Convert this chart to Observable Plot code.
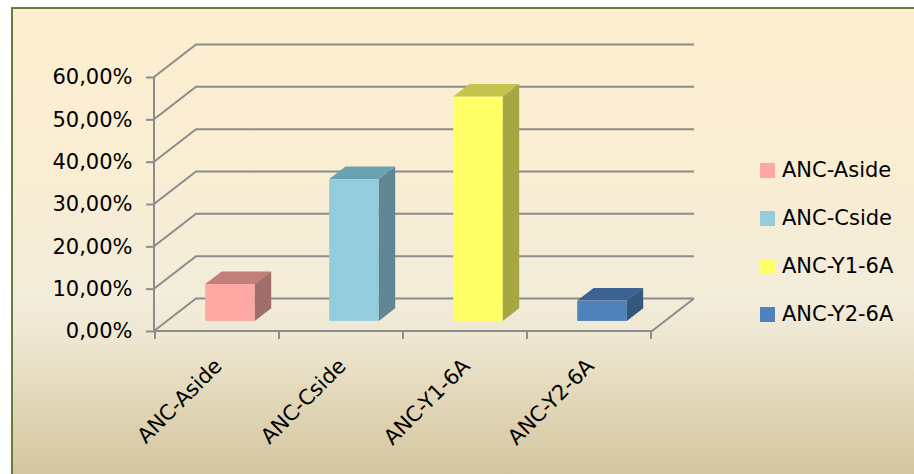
<!DOCTYPE html>
<html><head><meta charset="utf-8">
<script src="https://cdn.jsdelivr.net/npm/d3@7"></script>
<script src="https://cdn.jsdelivr.net/npm/@observablehq/plot@0.6"></script>
<style>
body{margin:0;background:#fff;}
#wrap{position:relative;width:914px;height:474px;overflow:hidden;font-family:"DejaVu Sans",sans-serif;}
#bg{position:absolute;left:11px;top:7px;width:920px;height:480px;border-top:2px solid #6b7b3b;border-left:2px solid #6b7b3b;
background:linear-gradient(to bottom,#fdeecf 0%,#f9edd3 35%,#f2ecda 60%,#eee7d2 68%,#e3d8ba 80%,#d1c39c 100%);}
#chart{position:absolute;left:0;top:0;}
#legend{position:absolute;left:760px;top:146px;font-size:21px;color:#000;}
.row{display:flex;align-items:center;height:48px;}
.sw{width:15px;height:15px;margin-right:7px;}
</style></head>
<body><div id="wrap"><div id="bg"></div><div id="chart"></div><div id="legend"></div></div>
<script>
const categories = ["ANC-Aside", "ANC-Cside", "ANC-Y1-6A", "ANC-Y2-6A"];
const values = [0.087, 0.335, 0.530, 0.048];
const yTicks = [0, 0.1, 0.2, 0.3, 0.4, 0.5, 0.6];

const frontColors = ["#ffa7a3", "#93cddd", "#ffff66", "#4f81bd"];
const topColors = ["#c37e7a", "#6ba2b1", "#c6c34f", "#3b6293"];
const sideColors = ["#a06f6b", "#5e8694", "#a6a642", "#35567d"];
const gridColor = "#8c8c8c";
const DEPTH = [42, -32.5];
const F0 = 0.31, F1 = 0.70;

const data = categories.map((c, i) => ({cat: c, value: values[i], i}));

function wall(index, scales, vals, dim) {
  const g = d3.create("svg:g").attr("fill", "none").attr("stroke", gridColor).attr("stroke-width", 2);
  const L = dim.marginLeft, R = dim.width - dim.marginRight;
  const [dx, dy] = DEPTH;
  const y0 = scales.y(0), yTop = scales.y(d3.max(yTicks));
  let d = "";
  for (const v of yTicks) {
    const y = scales.y(v);
    d += `M${L},${y}L${L + dx},${y + dy}H${R + dx}`;
  }
  d += `M${L},${yTop}V${y0}`;
  d += `M${L},${y0}H${R}L${R + dx},${y0 + dy}`;
  const bw = scales.x.bandwidth ? scales.x.bandwidth() : (R - L) / categories.length;
  for (const c of categories) d += `M${scales.x(c)},${y0}v8`;
  d += `M${scales.x(categories[categories.length - 1]) + bw},${y0}v8`;
  g.append("path").attr("d", d);
  return g.node();
}

function boxes(index, scales, vals, dim) {
  const g = d3.create("svg:g");
  const L = dim.marginLeft, R = dim.width - dim.marginRight;
  const bw = scales.x.bandwidth ? scales.x.bandwidth() : (R - L) / categories.length;
  const [dx, dy] = DEPTH;
  const ax = F0 * dx, ay = F0 * dy, bx = F1 * dx, by = F1 * dy;
  for (const i of index) {
    const d = data[i];
    const xs = scales.x(d.cat);
    const x0 = xs + bw * 0.3, x1 = xs + bw * 0.7;
    const yb = scales.y(0), yt = scales.y(d.value);
    g.append("rect").attr("x", x0 + ax).attr("y", yt + ay).attr("width", x1 - x0).attr("height", yb - yt).attr("fill", frontColors[i]);
    g.append("path").attr("fill", topColors[i])
      .attr("d", `M${x0 + ax},${yt + ay}L${x1 + ax},${yt + ay}L${x1 + bx},${yt + by}L${x0 + bx},${yt + by}Z`);
    g.append("path").attr("fill", sideColors[i])
      .attr("d", `M${x1 + ax},${yt + ay}L${x1 + bx},${yt + by}L${x1 + bx},${yb + by}L${x1 + ax},${yb + ay}Z`);
  }
  return g.node();
}

const fmt = d => (d * 100).toFixed(2).replace(".", ",") + "%";

const chart = Plot.plot({
  width: 914, height: 474,
  marginLeft: 154, marginRight: 262, marginTop: 77, marginBottom: 143,
  style: {background: "transparent", fontFamily: "DejaVu Sans", fontSize: "21px", color: "#000", overflow: "visible"},
  x: {domain: categories, padding: 0, label: null},
  y: {domain: [0, 0.6], label: null},
  marks: [
    Plot.ruleY(yTicks, {y: d => d, render: wall}),
    Plot.barY(data, {x: "cat", y: "value", render: boxes}),
    Plot.axisY(yTicks, {tickFormat: fmt, tickSize: 8, tickPadding: 14, stroke: gridColor, strokeWidth: 2, fill: "#000", fontSize: 21, label: null}),
    Plot.axisX({tickSize: 0, tickRotate: -45, tickPadding: 31, dx: 1, fontSize: 21, fill: "#000", label: null})
  ]
});
document.getElementById("chart").appendChild(chart);

const legend = document.getElementById("legend");
categories.forEach((c, i) => {
  const row = document.createElement("div"); row.className = "row";
  const sw = document.createElement("div"); sw.className = "sw"; sw.style.background = frontColors[i];
  const t = document.createElement("span"); t.textContent = c;
  row.appendChild(sw); row.appendChild(t); legend.appendChild(row);
});
</script></body></html>
